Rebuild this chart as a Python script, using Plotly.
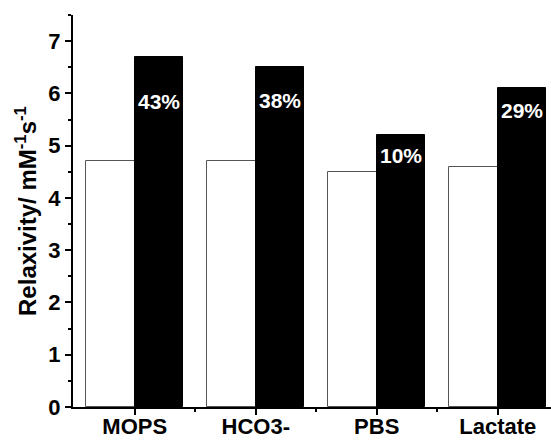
import plotly.graph_objects as go

# Relaxivity per buffer, before (white) and after (black)
buffers = ["MOPS", "HCO3-", "PBS", "Lactate"]
relax_before = [4.7, 4.7, 4.5, 4.6]
relax_after = [6.7, 6.5, 5.2, 6.1]
increase_labels = ["43%", "38%", "10%", "29%"]
label_heights = [5.85, 5.86, 4.82, 5.68]

xpos = list(range(len(buffers)))
FONT = "Arial, Liberation Sans, sans-serif"

fig = go.Figure()
fig.add_trace(go.Bar(
    x=xpos, y=relax_before, width=0.4, offset=-0.4,
    marker=dict(color="white", line=dict(color="#555555", width=1)),
    showlegend=False,
))
fig.add_trace(go.Bar(
    x=xpos, y=relax_after, width=0.4, offset=0.0,
    marker=dict(color="black", line=dict(color="black", width=1)),
    showlegend=False,
))

for x, yv, txt in zip(xpos, label_heights, increase_labels):
    fig.add_annotation(
        x=x + 0.2, y=yv, text=f"<b>{txt}</b>", showarrow=False,
        font=dict(family=FONT, size=21, color="white"),
        xanchor="center", yanchor="middle",
    )

fig.update_layout(
    width=551, height=440,
    margin=dict(l=73, r=0, t=15, b=33),
    plot_bgcolor="white", paper_bgcolor="white",
    barmode="overlay", bargap=0,
    font=dict(family=FONT, color="black"),
)
fig.update_xaxes(
    range=[-0.51, 3.44], automargin=False,
    tickmode="array", tickvals=xpos,
    ticktext=[f"<b>{b}</b>" for b in buffers],
    tickfont=dict(size=22, family=FONT, color="black"),
    ticklabelstandoff=-7,
    showline=True, linecolor="black", linewidth=2,
    ticks="outside", ticklen=6, tickwidth=1.5, tickcolor="black",
    minor=dict(tickmode="array", tickvals=[0.5, 1.5, 2.5],
               ticks="outside", ticklen=3, tickwidth=1.5, tickcolor="black"),
    showgrid=False, zeroline=False,
)
fig.update_yaxes(
    range=[0, 7.5], automargin=False,
    tickmode="array", tickvals=list(range(8)),
    ticktext=[f"<b>{i}</b>" for i in range(8)],
    tickfont=dict(size=22, family=FONT, color="black"),
    showline=True, linecolor="black", linewidth=2,
    ticks="outside", ticklen=6, tickwidth=1.5, tickcolor="black",
    minor=dict(tickmode="array", tickvals=[i + 0.5 for i in range(8)],
               ticks="outside", ticklen=3, tickwidth=1.5, tickcolor="black"),
    showgrid=False, zeroline=False,
    title=dict(text="<b>Relaxivity/ mM<sup>-1</sup>s<sup>-1</sup></b>",
               font=dict(size=24, family=FONT, color="black"), standoff=5),
)

fig.write_html("out.html")
